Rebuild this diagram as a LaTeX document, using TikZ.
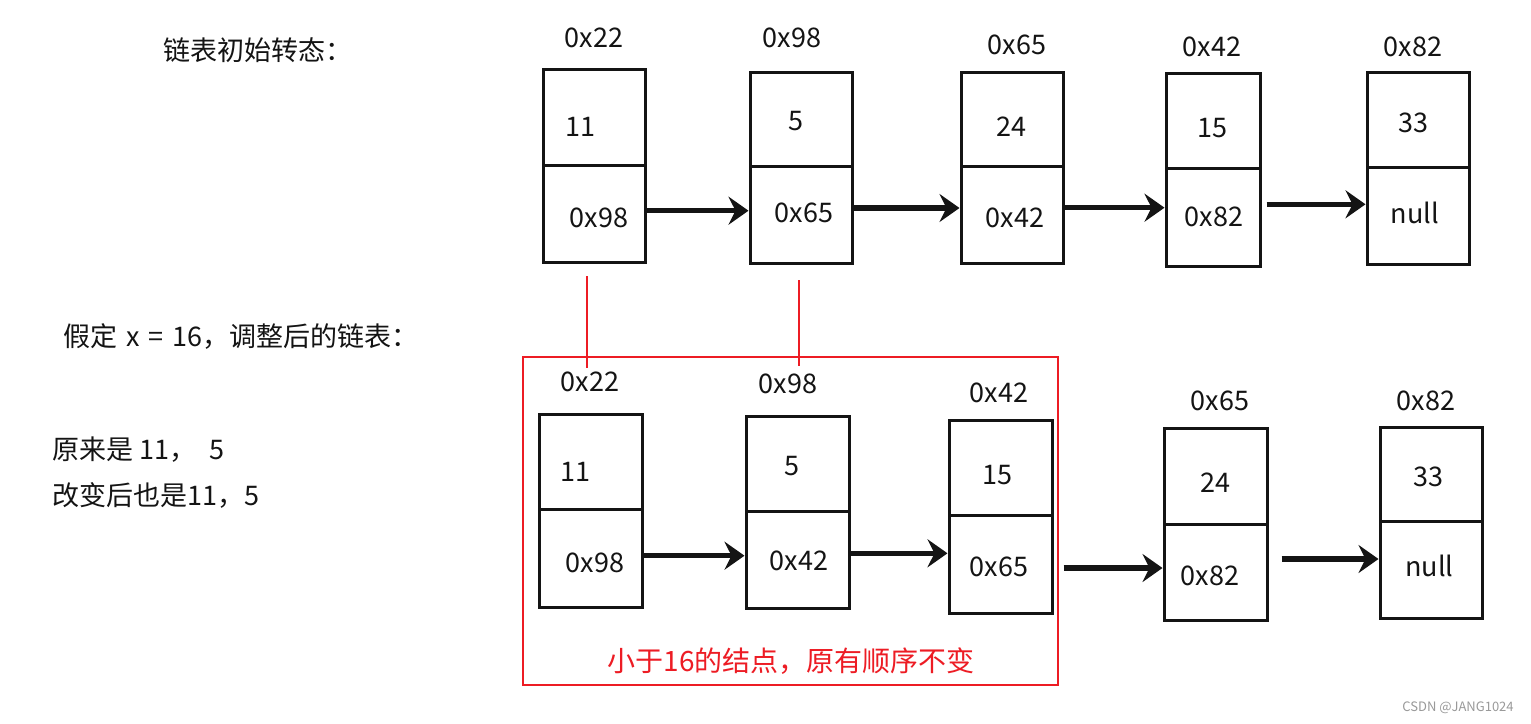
\documentclass[tikz,border=0pt]{standalone}
\usepackage{fontspec}
\setmainfont{Noto Sans CJK SC}
\usetikzlibrary{arrows.meta,fit}
\definecolor{mred}{RGB}{237,28,36}
\definecolor{ink}{RGB}{20,20,20}
\newcommand\mkcell[6]{%
  \node[cellbox, fit={(#2,#3) (#4,#5)}] (#1v) {};
  \node[cellbox, fit={(#2,#5) (#4,#6)}] (#1p) {};
}
\begin{document}
\begin{tikzpicture}[x=1pt,y=-1pt,
  cellbox/.style={draw=ink, line width=3pt, inner sep=0pt},
  txt/.style={inner sep=0pt, font=\fontsize{27}{30}\selectfont, text=ink},
  lbl/.style={txt, anchor=west},
  arr/.style={draw=ink, line width=5.5pt, -{Stealth[length=20pt,width=28pt,inset=7pt]}},
  redline/.style={draw=mred, line width=2pt},
  redtxt/.style={inner sep=0pt, font=\fontsize{28}{30}\selectfont, text=mred},
  wmark/.style={inner sep=0pt, font=\fontsize{13}{15}\selectfont, text=black!40}
]
\useasboundingbox (0,0) rectangle (1531,723);
\fill[white] (0,0) rectangle (1531,723);

% ---- left texts
\node[lbl] (t1) at (163,50) {链表初始转态：};
\node[lbl] (t2) at (63,336.5) {假定\hspace{9pt}x\hspace{9pt}=\hspace{9pt}16，调整后的链表：};
\node[lbl] (t3) at (52,449.5) {原来是 11，\hspace{13pt}5};
\node[lbl] (t4) at (52,495) {改变后也是11，5};

% ---- top row
\mkcell{a}{543}{69}{645}{165}{262}
\mkcell{b}{750}{72}{852}{166}{263}
\mkcell{c}{961}{72}{1063}{166}{263}
\mkcell{d}{1166}{73}{1260}{168}{266}
\mkcell{e}{1367}{72}{1469}{167}{264}

\node[txt] (al) at (594,38) {0x22};
\node[txt] (bl) at (792,38) {0x98};
\node[txt] (cl) at (1017,45) {0x65};
\node[txt] (dl) at (1212,47) {0x42};
\node[txt] (el) at (1413,47) {0x82};

\node[txt] (avt) at (580,127) {11};
\node[txt] (apt) at (599,218) {0x98};
\node[txt] (bvt) at (796,121.5) {5};
\node[txt] (bpt) at (804,213) {0x65};
\node[txt] (cvt) at (1011,127) {24};
\node[txt] (cpt) at (1015,217.5) {0x42};
\node[txt] (dvt) at (1212,128.5) {15};
\node[txt] (dpt) at (1214,216.5) {0x82};
\node[txt] (evt) at (1413,123) {33};
\node[txt] (ept) at (1415,213) {null};

\draw[arr] ([yshift=2.8pt]ap.east) -- ([yshift=2.8pt]ap.east -| bp.west);
\draw[arr] ([yshift=6.5pt]bp.east) -- ([yshift=6.5pt]bp.east -| cp.west);
\draw[arr] ([yshift=6.8pt]cp.east) -- ([yshift=6.8pt]cp.east -| dp.west);
\draw[arr] ([xshift=5pt,yshift=12.7pt]dp.east) -- ([yshift=12.7pt]dp.east -| ep.west);

% ---- red markers
\coordinate (r1a) at (587,276);
\coordinate (r1b) at (587,368);
\coordinate (r2a) at (799,280);
\coordinate (r2b) at (799,366);
\draw[redline] (r1a) -- (r1b);
\draw[redline] (r2a) -- (r2b);
\node[draw=mred, line width=2pt, inner sep=0pt, fit={(523,357) (1058,685)}] (rbox) {};
\node[redtxt] (rt) at (791,661.5) {小于16的结点，原有顺序不变};

% ---- bottom row
\mkcell{f}{539}{414}{642}{509}{607}
\mkcell{g}{746}{416}{849}{511}{608}
\mkcell{h}{949}{420}{1052}{515}{613}
\mkcell{i}{1164}{428}{1267}{524}{620}
\mkcell{j}{1380}{427}{1482}{521}{618}

\node[txt] (fl) at (590,382) {0x22};
\node[txt] (gl) at (788,384) {0x98};
\node[txt] (hl) at (999,393) {0x42};
\node[txt] (il) at (1220,401) {0x65};
\node[txt] (jl) at (1426,401) {0x82};

\node[txt] (fvt) at (575,472) {11};
\node[txt] (fpt) at (595,563) {0x98};
\node[txt] (gvt) at (792,466.5) {5};
\node[txt] (gpt) at (799,560.5) {0x42};
\node[txt] (hvt) at (997,475.5) {15};
\node[txt] (hpt) at (999,566.5) {0x65};
\node[txt] (ivt) at (1215,482.5) {24};
\node[txt] (ipt) at (1210,576) {0x82};
\node[txt] (jvt) at (1428,476.5) {33};
\node[txt] (jpt) at (1429.5,565.5) {null};

\draw[arr] ([yshift=2.3pt]fp.east) -- ([yshift=2.3pt]fp.east -| gp.west);
\draw[arr] ([yshift=6.2pt]gp.east) -- ([yshift=6.2pt]gp.east -| hp.west);
\draw[arr] ([xshift=10pt,yshift=-4pt]hp.east) -- ([yshift=-4pt]hp.east -| ip.west);
\draw[arr] ([xshift=13pt,yshift=13pt]ip.east) -- ([yshift=13pt]ip.east -| jp.west);

\node[wmark] (wm) at (1458,708) {CSDN @JANG1024};
\end{tikzpicture}
\end{document}
